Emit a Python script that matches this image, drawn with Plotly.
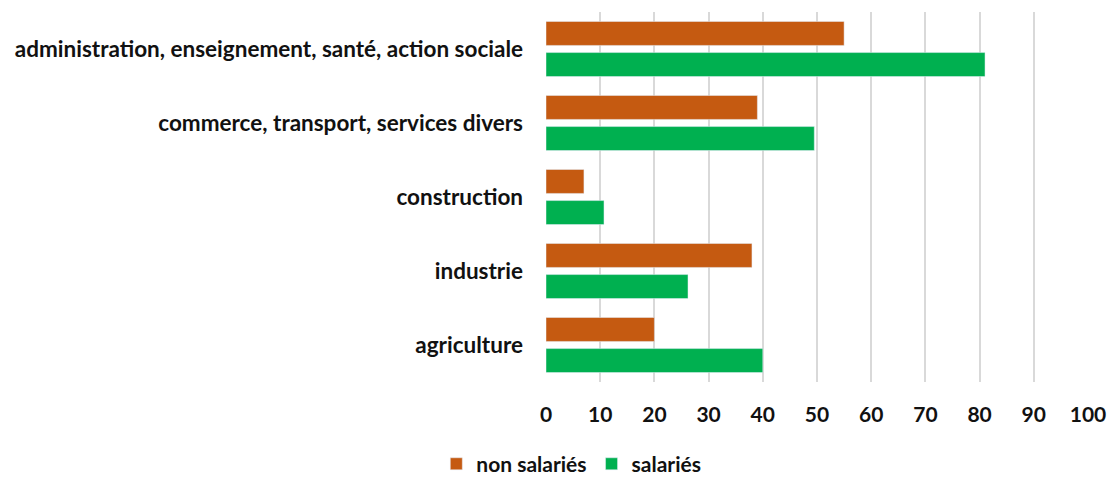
import plotly.graph_objects as go

categories = ["administration, enseignement, santé, action sociale",
              "commerce, transport, services divers",
              "construction",
              "industrie",
              "agriculture"]
non_salaries = [55, 39, 7, 38, 20]
salaries = [81, 49.5, 10.7, 26.2, 40]
x_ticks = [0, 10, 20, 30, 40, 50, 60, 70, 80, 90, 100]

FONT = "Lato, Liberation Sans, Arial"
TXT = "#111111"

fig = go.Figure()
fig.add_trace(go.Bar(y=categories, x=non_salaries, orientation="h", name="non salariés",
                     marker=dict(color="#C55A11")))
fig.add_trace(go.Bar(y=categories, x=salaries, orientation="h", name="salariés",
                     marker=dict(color="#00B050")))

fig.update_layout(
    width=1118, height=477,
    margin=dict(l=546, r=22, t=12, b=95),
    paper_bgcolor="white", plot_bgcolor="white",
    barmode="group", bargap=0.16, bargroupgap=0.23,
    font=dict(family=FONT, size=21, color=TXT),
    showlegend=True,
    legend=dict(orientation="h", xref="container", yref="container",
                x=0.511, xanchor="center", y=0.027, yanchor="middle",
                font=dict(family=FONT, size=21, color=TXT, weight="bold"),
                itemwidth=30, traceorder="normal"),
    xaxis=dict(range=[0, 100], tickvals=x_ticks, showgrid=True, gridcolor="#D9D9D9",
               gridwidth=2, zeroline=False, showline=False, ticks="",
               ticklabelstandoff=18,
               tickfont=dict(family=FONT, size=21, color=TXT, weight="bold")),
    yaxis=dict(autorange="reversed", showgrid=False, zeroline=False, showline=False,
               ticks="", ticklabelstandoff=22,
               tickfont=dict(family=FONT, size=22.5, color=TXT, weight="bold")),
)

fig.write_html("out.html", config={"displayModeBar": False},
               post_script="document.body.style.margin='0';document.body.style.overflow='hidden';")
